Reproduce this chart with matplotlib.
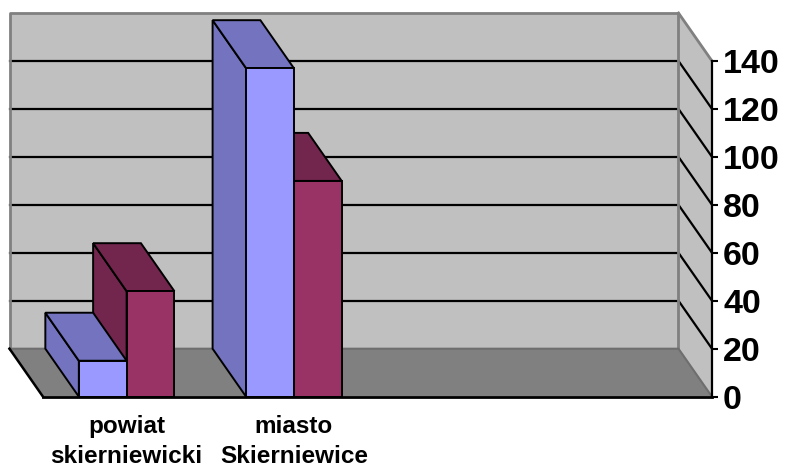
import numpy as np
import matplotlib.pyplot as plt
from matplotlib.patches import Polygon

# ---------- DATA ----------
categories = ["powiat\nskierniewicki", "miasto\nSkierniewice", "", ""]
series_a = [15, 137, None, None]   # blue bars
series_b = [44, 90, None, None]    # maroon bars
y_ticks = [0, 20, 40, 60, 80, 100, 120, 140]

# ---------- STYLE ----------
plt.rcParams['font.family'] = ['Liberation Sans', 'DejaVu Sans']
WALL = "#C0C0C0"
FLOOR = "#808080"
EDGE_GREY = "#808080"
colors_front = ["#9999FF", "#993366"]
colors_dark = ["#7373BF", "#73264D"]

W, H = 786, 465
fig = plt.figure(figsize=(W / 100, H / 100), dpi=100)
ax = fig.add_axes([0, 0, 1, 1])
ax.patch.set_visible(False)

# map the front plane (0..4 categories, 0..140 values) onto the picture
n_cat = len(categories)
ymax = y_ticks[-1]
px_left, px_right = 43, 712          # front plane, pixels from left
px_zero, px_top = 396.7, 61          # value 0 and 140, pixels from top
ppx = (px_right - px_left) / n_cat
ppy = (px_zero - px_top) / ymax
ax.set_xlim(-px_left / ppx, (W - px_left) / ppx)
ax.set_ylim(-(H - px_zero) / ppy, px_zero / ppy)

# depth offset of the back wall
DX = -33.5 / ppx
DY = 48 / ppy


def poly(pts, fc, ec="none", lw=0, z=1):
    ax.add_patch(Polygon(pts, closed=True, facecolor=fc, edgecolor=ec,
                         linewidth=lw, joinstyle="miter", zorder=z))


# back wall
poly([(DX, DY), (n_cat + DX, DY), (n_cat + DX, ymax + DY), (DX, ymax + DY)], WALL, z=0.5)
# right side wall
poly([(n_cat + DX, DY), (n_cat, 0), (n_cat, ymax), (n_cat + DX, ymax + DY)], WALL, z=0.5)
# floor
poly([(DX, DY), (n_cat + DX, DY), (n_cat, 0), (0, 0)], FLOOR, z=0.6)

# gridlines on walls
for v in y_ticks[1:-1]:
    ax.plot([DX, n_cat + DX], [v + DY, v + DY], color="black", lw=1.6, zorder=0.8)
    ax.plot([n_cat + DX, n_cat], [v + DY, v], color="black", lw=1.6, zorder=0.8)

# wall borders
ax.plot([DX, DX, n_cat + DX, n_cat + DX], [DY, ymax + DY, ymax + DY, DY],
        color=EDGE_GREY, lw=2, zorder=0.9)
ax.plot([n_cat + DX, n_cat], [ymax + DY, ymax], color=EDGE_GREY, lw=2, zorder=0.9)
ax.plot([DX, n_cat + DX, n_cat], [DY, DY, 0], color="#6E6E6E", lw=1.5, zorder=0.9)
ax.plot([DX, 0], [DY, 0], color="black", lw=1.8, zorder=0.9)

# 3D bars, gap width 150%
bw = 1 / 3.5
series = [series_a, series_b]
for i in range(n_cat - 1, -1, -1):
    for j in range(len(series) - 1, -1, -1):
        v = series[j][i]
        if v is None:
            continue
        x0 = i + 0.5 - bw + j * bw
        x1 = x0 + bw
        # left side
        poly([(x0, 0), (x0 + DX, DY), (x0 + DX, v + DY), (x0, v)],
             colors_dark[j], "black", 1.4, 3)
        # top
        poly([(x0, v), (x1, v), (x1 + DX, v + DY), (x0 + DX, v + DY)],
             colors_dark[j], "black", 1.4, 3)
        # front
        poly([(x0, 0), (x1, 0), (x1, v), (x0, v)],
             colors_front[j], "black", 1.4, 3)

# axes
for s in ["top", "left"]:
    ax.spines[s].set_visible(False)
ax.spines["right"].set_position(("data", n_cat))
ax.spines["right"].set_bounds(0, ymax)
ax.spines["right"].set_linewidth(1.6)
ax.spines["bottom"].set_position(("data", 0))
ax.spines["bottom"].set_bounds(0, n_cat)
ax.spines["bottom"].set_linewidth(2)
ax.spines["bottom"].set_zorder(4)

ax.yaxis.tick_right()
ax.set_yticks(y_ticks)
ax.set_yticklabels([str(t) for t in y_ticks], fontsize=24.5, fontweight="bold")
ax.tick_params(axis="y", direction="out", length=4.5, width=1.5, pad=3.5)

ax.set_xticks(np.arange(n_cat) + 0.5)
ax.set_xticklabels(categories, fontsize=17.5, fontweight="bold", linespacing=1.42)
ax.tick_params(axis="x", length=0, pad=13)

plt.savefig("out.png", dpi=100)
plt.close()
